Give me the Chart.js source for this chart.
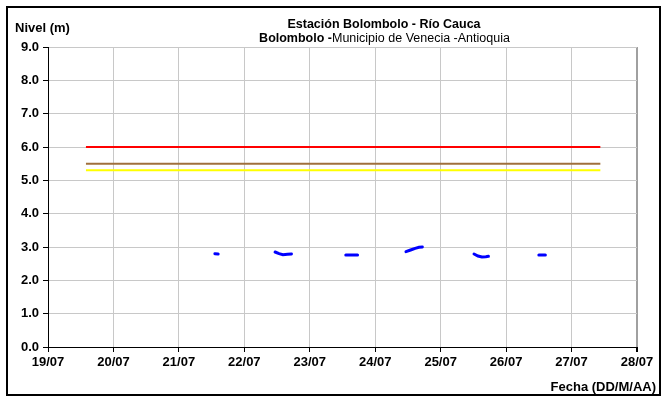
<!DOCTYPE html>
<html>
<head>
<meta charset="utf-8">
<script src="https://cdn.jsdelivr.net/npm/chart.js@4"></script>
<style>
  html, body { margin: 0; padding: 0; background: #fff; }
  #wrap { position: relative; width: 661px; height: 396px; }
  #frame { position: absolute; left: 6px; top: 6px; width: 651px; height: 386px;
           border: 2px solid #000; pointer-events: none; }
</style>
</head>
<body>
<div id="wrap">
  <canvas id="grafico" width="661" height="396"></canvas>
  <div id="frame"></div>
</div>
<script>
// =======================
// DATOS
// =======================
// etiquetas del eje X (un dia por division)
let fechas = ["19/07", "20/07", "21/07", "22/07", "23/07", "24/07", "25/07", "26/07", "27/07", "28/07"];

// tiempo en dias desde 19/07 00:00, null corta la linea
let tiempo = [
    2.55, 2.60, null,
    3.47, 3.53, 3.59, 3.66, 3.72, null,
    4.55, 4.64, 4.73, null,
    5.47, 5.54, 5.61, 5.67, 5.72, null,
    6.51, 6.57, 6.63, 6.69, 6.73, null,
    7.50, 7.60
];

// nivel del rio (m)
let nivel = [
    2.80, 2.79, null,
    2.85, 2.80, 2.77, 2.78, 2.79, null,
    2.76, 2.76, 2.76, null,
    2.86, 2.91, 2.96, 2.99, 3.00, null,
    2.79, 2.73, 2.70, 2.71, 2.72, null,
    2.76, 2.76
];

// niveles de alerta
let umbrales = [6.0, 5.5, 5.3];
let coloresUmbral = ["#ff0000", "#a0703c", "#ffff00"];
let umbralInicio = 0.58;
let umbralFin = 8.44;

// =======================
// DATASETS
// =======================
let datasets = umbrales.map((u, i) => ({
    data: [{ x: umbralInicio, y: u }, { x: umbralFin, y: u }],
    borderColor: coloresUmbral[i],
    borderWidth: 2,
    pointRadius: 0
}));

datasets.push({
    data: tiempo.map((t, i) => ({ x: t, y: nivel[i] })),
    borderColor: "#0000ff",
    borderWidth: 3,
    borderCapStyle: "round",
    pointRadius: 0,
    spanGaps: false
});

// =======================
// TEXTOS (titulo y ejes)
// =======================
const textos = {
    id: "textos",
    afterDraw(chart) {
        let ctx = chart.ctx;
        ctx.save();
        ctx.fillStyle = "#000";
        ctx.textBaseline = "middle";

        ctx.font = "bold 12.5px 'Liberation Sans', Arial, sans-serif";
        ctx.textAlign = "center";
        ctx.fillText("Estación Bolombolo - Río Cauca", 384, 25);

        // segunda linea: parte en negrita + parte normal
        let b = "Bolombolo -";
        let n = "Municipio de Venecia -Antioquia";
        ctx.font = "bold 12.5px 'Liberation Sans', Arial, sans-serif";
        let wb = ctx.measureText(b).width;
        ctx.font = "12.5px 'Liberation Sans', Arial, sans-serif";
        let wn = ctx.measureText(n).width;
        let x0 = 384.5 - (wb + wn) / 2;
        ctx.textAlign = "left";
        ctx.font = "bold 12.5px 'Liberation Sans', Arial, sans-serif";
        ctx.fillText(b, x0, 39);
        ctx.font = "12.5px 'Liberation Sans', Arial, sans-serif";
        ctx.fillText(n, x0 + wb, 39);

        ctx.font = "bold 13px 'Liberation Sans', Arial, sans-serif";
        ctx.fillText("Nivel (m)", 15, 28);
        ctx.textAlign = "right";
        ctx.fillText("Fecha (DD/M/AA)", 656, 387);
        ctx.restore();
    }
};

// =======================
// GRAFICO
// =======================
new Chart(document.getElementById("grafico"), {
    type: "line",
    data: { datasets: datasets },
    options: {
        responsive: false,
        animation: false,
        layout: { padding: { left: 0, right: 24, top: 47, bottom: 0 } },
        plugins: {
            legend: { display: false },
            tooltip: { enabled: false },
            title: { display: false }
        },
        scales: {
            x: {
                type: "linear",
                min: 0,
                max: 9,
                afterFit: s => { s.height = 49; },
                afterBuildTicks: s => { s.ticks = fechas.map((f, i) => ({ value: i })); },
                ticks: {
                    autoSkip: false,
                    maxRotation: 0,
                    padding: 3,
                    color: "#000",
                    font: { family: "'Liberation Sans', Arial, sans-serif", size: 13, weight: "bold" },
                    callback: v => fechas[v]
                },
                grid: {
                    color: c => c.tick && c.tick.value === 9 ? "#a0a0a0" : "#c8c8c8",
                    lineWidth: c => c.tick && c.tick.value === 9 ? 2 : 1,
                    tickLength: 5,
                    tickColor: "#000"
                },
                border: { color: "#000", width: 1 }
            },
            y: {
                min: 0,
                max: 9,
                afterFit: s => { s.width = 48; },
                ticks: {
                    stepSize: 0.5,
                    padding: 4,
                    color: "#000",
                    font: { family: "'Liberation Sans', Arial, sans-serif", size: 13, weight: "bold" },
                    callback: v => (v % 1 === 0 ? v.toFixed(1) : "")
                },
                grid: {
                    color: "#c8c8c8",
                    lineWidth: 1,
                    tickLength: 5,
                    tickColor: c => (c.tick && c.tick.value % 1 === 0 ? "#000" : "rgba(0,0,0,0)")
                },
                border: { color: "#000", width: 1 }
            }
        }
    },
    plugins: [textos]
});
</script>
</body>
</html>
